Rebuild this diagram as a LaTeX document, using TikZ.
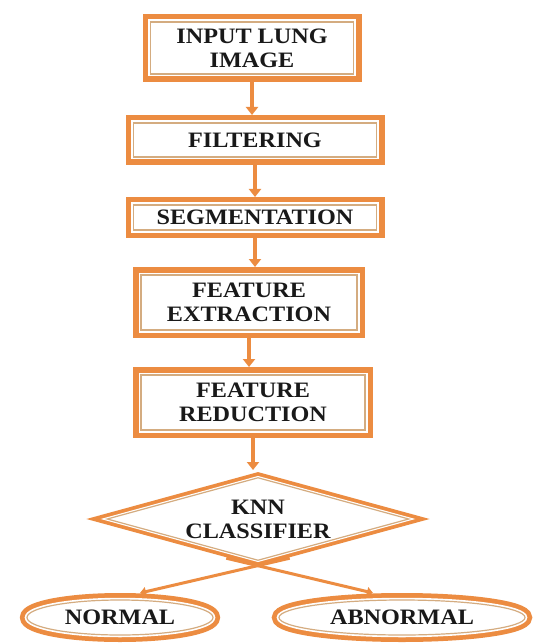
\documentclass[tikz,border=0pt]{standalone}
\usepackage{fontspec}
\setmainfont{Liberation Serif}[FakeStretch=1.1]
\usetikzlibrary{shapes.geometric,arrows.meta,calc}
\definecolor{borange}{RGB}{236,140,65}
\definecolor{binner}{RGB}{212,172,128}
\begin{document}
\begin{tikzpicture}[x=1pt,y=-1pt,
  txt/.style={align=center, text=black!90, font=\bfseries\fontsize{22}{24}\selectfont},
  stepbox/.style={txt, rectangle, fill=white, draw=binner, line width=1.2pt,
    preaction={draw=borange, line width=16pt},
    preaction={draw=white, line width=5pt},
    outer sep=8pt, inner sep=2pt},
  decision/.style={txt, diamond, aspect=3.5, fill=white, draw=binner, line width=1.2pt,
    preaction={draw=borange, line width=11pt},
    preaction={draw=white, line width=3.5pt},
    outer sep=5.5pt, inner sep=0pt},
  outcome/.style={txt, ellipse, fill=white, draw=binner, line width=1.2pt,
    preaction={draw=borange, line width=14pt},
    preaction={draw=white, line width=4.5pt},
    outer sep=7pt, inner sep=0pt},
  flow/.style={draw=borange, line width=3.5pt, -{Triangle[width=12pt,length=8pt]}},
  branch/.style={draw=borange, line width=3pt, -{Triangle[width=9pt,length=6pt]}}
]
\useasboundingbox[fill=white] (0,0) rectangle (534,644);

\node[stepbox, minimum width=203pt, minimum height=52pt] (input) at (252,48) {INPUT LUNG\\IMAGE};
\node[stepbox, minimum width=243pt, minimum height=34pt] (filter) at (255,140) {FILTERING};
\node[stepbox, minimum width=243pt, minimum height=25pt] (seg) at (255,217.5) {SEGMENTATION};
\node[stepbox, minimum width=216pt, minimum height=55pt] (fext) at (249,302.5) {FEATURE\\EXTRACTION};
\node[stepbox, minimum width=224pt, minimum height=55pt] (fred) at (253,402.5) {FEATURE\\REDUCTION};
\node[decision, minimum width=306pt, minimum height=87pt] (knn) at (258,519) {KNN\\CLASSIFIER};
\node[outcome, minimum width=186pt, minimum height=35pt] (normal) at (120,617.5) {NORMAL};
\node[outcome, minimum width=246pt, minimum height=35pt] (abnormal) at (402,617.5) {ABNORMAL};

\draw[flow] (input.south) -- (input.south |- filter.north);
\draw[flow] (filter.south) -- (filter.south |- seg.north);
\draw[flow] (seg.south) -- (seg.south |- fext.north);
\draw[flow] (fext.south) -- (fext.south |- fred.north);
\draw[flow] (fred.south) -- (fred.south |- knn.north);

\draw[branch] ($(knn.east)!0.8!(knn.south)$) -- ($(normal.north)+(20pt,0)$);
\draw[branch] ($(knn.west)!0.8!(knn.south)$) -- ($(abnormal.north)+(-29pt,0)$);
\end{tikzpicture}
\end{document}
